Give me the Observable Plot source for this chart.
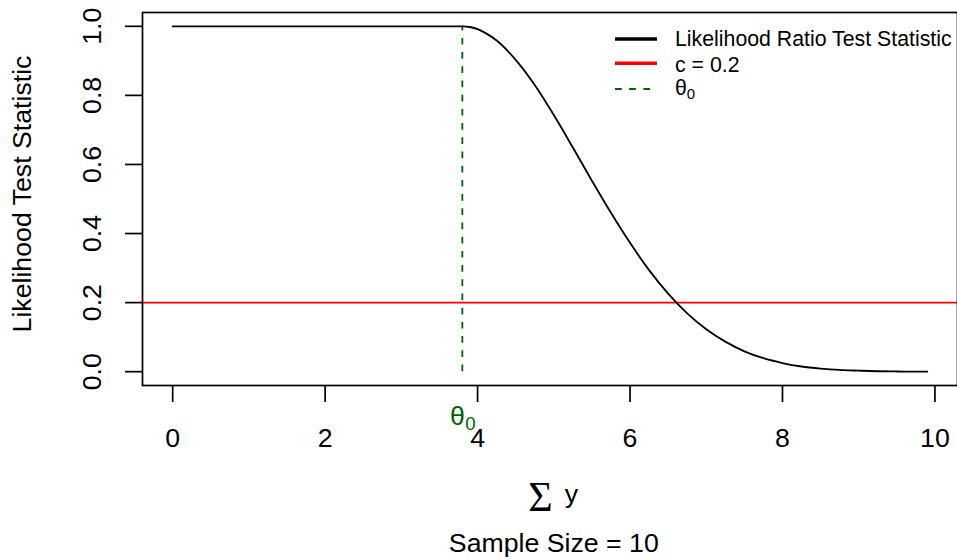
<!DOCTYPE html>
<html><head><meta charset="utf-8">
<script src="https://cdn.jsdelivr.net/npm/d3@7"></script>
<script src="https://cdn.jsdelivr.net/npm/@observablehq/plot@0.6"></script>
<style>body{margin:0;background:#fff}#chart{width:957px;height:560px}</style>
</head><body><div id="chart"></div>
<script>
// Data
const sumY = [0, 3.8, 3.9, 4, 4.1, 4.25, 4.5, 4.75, 5, 5.25, 5.5, 5.75, 6, 6.25, 6.5, 6.75, 7, 7.25, 7.5, 7.75, 8, 8.25, 8.5, 8.75, 9, 9.25, 9.5, 9.9];
const lrt  = [1, 1, 0.998, 0.992, 0.981, 0.959, 0.903, 0.830, 0.743, 0.649, 0.553, 0.460, 0.373, 0.294, 0.226, 0.169, 0.123, 0.087, 0.059, 0.039, 0.025, 0.015, 0.009, 0.005, 0.003, 0.0013, 0.0006, 0.0001];
const critical = 0.2;
const theta0 = 3.8;
const xTicks = [0, 2, 4, 6, 8, 10];
const yTicks = [0, 0.2, 0.4, 0.6, 0.8, 1.0];
const legendLabels = ["Likelihood Ratio Test Statistic", "c = 0.2", "θ"];
const xTitle = ["Σ", "y"];
const caption = "Sample Size = 10";
const yTitle = "Likelihood Test Statistic";

const curve = sumY.map((x, i) => ({x, y: lrt[i]}));
const green = "#006400";
const font = "Liberation Sans, Arial, Helvetica, sans-serif";
const fs = 26.7;
const frameH = 560 - 12 - 175;

const legendStyles = [
  {stroke: "black", width: 3.6, dash: null},
  {stroke: "#ff0000", width: 3.6, dash: null},
  {stroke: green, width: 1.8, dash: "6.7,7.5"}
];

function legendMark(index, scales, values, dims) {
  const g = d3.create("svg:g").attr("font-family", font).attr("font-size", 21.3).attr("text-anchor", "start");
  const right = dims.width - dims.marginRight;
  const top = dims.marginTop;
  const lineY = [27, 51.3, 77];
  const textY = [34, 59.7, 83];
  legendLabels.forEach((lab, i) => {
    const s = legendStyles[i];
    g.append("line")
      .attr("x1", right - 342).attr("x2", right - 300)
      .attr("y1", top + lineY[i]).attr("y2", top + lineY[i])
      .attr("stroke", s.stroke).attr("stroke-width", s.width)
      .attr("stroke-dasharray", s.dash);
    const t = g.append("text").attr("x", right - 282).attr("y", top + textY[i])
      .attr("fill", "black").attr("text-anchor", "start").text(lab);
    if (i === 2) t.append("tspan").attr("font-size", 15).attr("dy", 4).text("0");
  });
  return g.node();
}

const chart = Plot.plot({
  width: 957, height: 560,
  marginTop: 12, marginRight: 0, marginBottom: 175, marginLeft: 142,
  x: {domain: [-0.396, 10.296]},
  y: {domain: [-0.04, 1.04]},
  style: {fontFamily: font, fontSize: fs + "px", background: "white", overflow: "visible", color: "black"},
  marks: [
    // tick marks
    Plot.tickX(xTicks, {x: d => d, insetTop: frameH, insetBottom: -17, stroke: "black", strokeWidth: 1.7}),
    Plot.tickY(yTicks, {y: d => d, insetRight: 957 - 142, insetLeft: -17, stroke: "black", strokeWidth: 1.7}),
    // tick labels
    Plot.axisX({ticks: xTicks, tickSize: 17, tickPadding: 26, fontSize: fs, stroke: "none", label: null}),
    Plot.axisY({ticks: yTicks, tickFormat: d3.format(".1f"), tickSize: 17, tickPadding: 33, rotate: -90,
      textAnchor: "middle", lineAnchor: "middle", fontSize: fs, stroke: "none", label: null}),
    Plot.ruleY([critical], {stroke: "#ff0000", strokeWidth: 1.8}),
    Plot.ruleX([theta0], {y1: 0, y2: 1, stroke: green, strokeWidth: 1.8, strokeDasharray: "6.7,7.5"}),
    Plot.line(curve, {x: "x", y: "y", stroke: "black", strokeWidth: 1.8, curve: "monotone-x"}),
    Plot.frame({stroke: "black", strokeWidth: 1.7}),
    Plot.text([theta0], {x: d => d, frameAnchor: "bottom", text: () => "θ", dx: -4.8, dy: 21, lineAnchor: "top", fill: green, fontSize: fs}),
    Plot.text([theta0], {x: d => d, frameAnchor: "bottom", text: () => "0", dx: 8.2, dy: 31.7, lineAnchor: "top", fill: green, fontSize: 18.7}),
    Plot.text([xTitle[0]], {frameAnchor: "bottom", text: d => d, dx: -9.6, dy: 95.2, lineAnchor: "top", fontFamily: "Liberation Serif, Times New Roman, serif", fontSize: 42}),
    Plot.text([xTitle[1]], {frameAnchor: "bottom", text: d => d, dx: 21.4, dy: 99, lineAnchor: "top", fontSize: fs}),
    Plot.text([caption], {frameAnchor: "bottom", text: d => d, dx: 3.8, dy: 148, lineAnchor: "top", fontSize: fs}),
    Plot.text([yTitle], {frameAnchor: "left", text: d => d, dx: -120, dy: -5, rotate: -90, lineAnchor: "middle", textAnchor: "middle", fontSize: fs}),
    legendMark
  ]
});
document.getElementById("chart").appendChild(chart);
</script>
</body></html>
